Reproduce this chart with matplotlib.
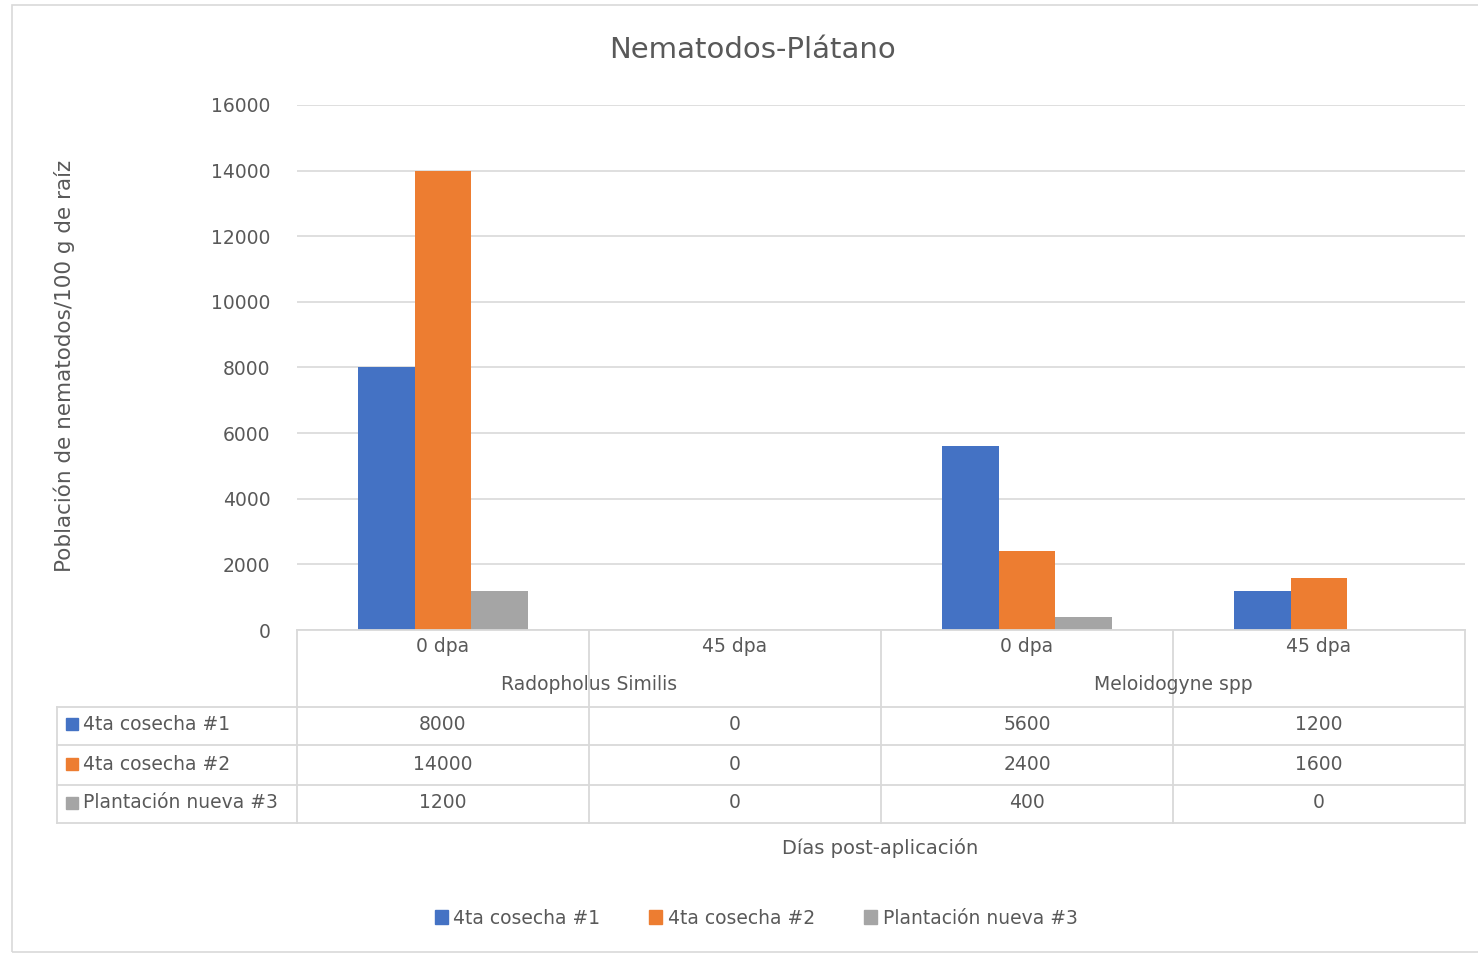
import numpy as np
import matplotlib.pyplot as plt
from matplotlib.patches import Patch, Rectangle
from matplotlib.lines import Line2D
from matplotlib.transforms import blended_transform_factory

# datos
especies = ['Radopholus Similis', 'Meloidogyne spp']
dias = ['0 dpa', '45 dpa', '0 dpa', '45 dpa']
series = ['4ta cosecha #1', '4ta cosecha #2', 'Plantación nueva #3']
cosecha1 = [8000, 0, 5600, 1200]
cosecha2 = [14000, 0, 2400, 1600]
nueva3 = [1200, 0, 400, 0]
colores = ['#4472C4', '#ED7D31', '#A5A5A5']

texto = '#595959'
linea = '#D9D9D9'
W, H = 1478, 956
fs = 13.5

def fy(py):  # pixel y -> fraccion de figura
    return 1 - py / H

fig = plt.figure(figsize=(W / 100, H / 100), dpi=100)
fig.patches.append(Rectangle((12 / W, fy(952)), 1.2, fy(5) - fy(952), transform=fig.transFigure,
                             fill=False, edgecolor='#D9D9D9', lw=1.2))

ax = fig.add_axes([297 / W, fy(630), (1465 - 297) / W, fy(105) - fy(630)])
x = np.arange(len(dias))
ancho = 0.194
valores = [cosecha1, cosecha2, nueva3]
for i in range(3):
    ax.bar(x + (i - 1) * ancho, valores[i], ancho, color=colores[i], zorder=3)

ax.set_xlim(-0.5, 3.5)
ax.set_ylim(0, 16000)
ax.set_yticks(np.arange(0, 16001, 2000))
ax.set_xticks([])
ax.grid(axis='y', color=linea, lw=1.2, zorder=0)
for s in ['top', 'right', 'left', 'bottom']:
    ax.spines[s].set_visible(False)
ax.tick_params(axis='y', length=0, pad=19, labelsize=fs, labelcolor=texto)
fig.text(752 / W, fy(50), 'Nematodos-Plátano', ha='center', va='center', fontsize=21, color=texto)
fig.text(64 / W, fy(366), 'Población de nematodos/100 g de raíz', rotation=90,
         ha='center', va='center', fontsize=15.5, color=texto)

# tabla de datos
tr = blended_transform_factory(ax.transData, fig.transFigure)
def hline(x0, x1, py, trans=tr):
    fig.add_artist(Line2D([x0, x1], [fy(py), fy(py)], transform=trans, color=linea, lw=1.3))
def vline(xx, py0, py1, trans=tr):
    fig.add_artist(Line2D([xx, xx], [fy(py0), fy(py1)], transform=trans, color=linea, lw=1.3))

hline(-0.5, 3.5, 630)
for py in [707, 745, 785, 823]:
    hline(-0.5, 3.5, py)
    fig.add_artist(Line2D([57 / W, 297 / W], [fy(py), fy(py)], transform=fig.transFigure,
                          color=linea, lw=1.3))
vline(57 / W, 707, 823, trans=fig.transFigure)
for xx in [-0.5, 0.5, 1.5, 2.5, 3.5]:
    vline(xx, 630, 823)

for j, d in enumerate(dias):
    fig.text(x[j], fy(646), d, transform=tr, ha='center', va='center', fontsize=fs, color=texto)
for k, e in enumerate(especies):
    fig.text(0.5 + 2 * k, fy(685), e, transform=tr, ha='center', va='center', fontsize=fs, color=texto)

filas_y = [724, 764, 803]
for i in range(3):
    fig.patches.append(Rectangle((66 / W, fy(filas_y[i] + 6)), 12 / W, 12 / H, transform=fig.transFigure,
                                 color=colores[i]))
    fig.text(83 / W, fy(filas_y[i]), series[i], ha='left', va='center', fontsize=fs, color=texto)
    for j in range(4):
        fig.text(x[j], fy(filas_y[i]), str(valores[i][j]), transform=tr, ha='center', va='center',
                 fontsize=fs, color=texto)

fig.text(880 / W, fy(848), 'Días post-aplicación', ha='center', va='center', fontsize=fs + 0.5, color=texto)

handles = [Patch(color=colores[i], label=series[i]) for i in range(3)]
fig.legend(handles=handles, loc='center', bbox_to_anchor=(756 / W, fy(918)), ncol=3, frameon=False,
           handlelength=0.7, handleheight=0.7, handletextpad=0.3, columnspacing=2.6,
           fontsize=fs, labelcolor=texto)

fig.savefig('out.png', dpi=100)
